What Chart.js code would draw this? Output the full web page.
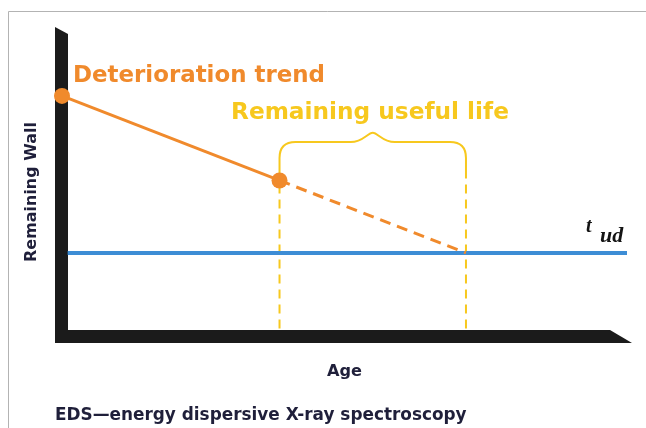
<!DOCTYPE html>
<html>
<head>
<meta charset="utf-8">
<title>Remaining useful life</title>
<script src="https://cdn.jsdelivr.net/npm/chart.js@4/dist/chart.umd.min.js"></script>
<style>
  html, body { margin: 0; padding: 0; background: #fff; }
  canvas { display: block; }
</style>
</head>
<body>
<canvas id="rul" width="646" height="428"></canvas>
<script>
// wall thickness over age: start, last inspection, projected end of life
const AGES = [0, 38.5, 71.5];
const WALL = [79.5, 51.5, 27.5];
// minimum wall thickness (t_ud) drawn across the age range
const TUD_AGES = [1, 100];
const TUD = 27.5;
// foot and top of the remaining-life markers
const MARKER_WALL = [2.5, 54];

const ORANGE = '#f08a2c';
const YELLOW = '#f7c81e';
const BLUE = '#3d8dd5';
const AXIS = '#1b1b1b';
const NAVY = '#1f1f3a';

function fitFont(ctx, text, width, style, family) {
  ctx.font = style + ' 20px ' + family;
  const w = ctx.measureText(text).width;
  return style + ' ' + (20 * width / w).toFixed(2) + 'px ' + family;
}

const sketchPlugin = {
  id: 'sketch',
  beforeDraw(chart) {
    const ctx = chart.ctx;
    ctx.save();
    ctx.fillStyle = '#fff';
    ctx.fillRect(0, 0, chart.width, chart.height);
    // page frame
    ctx.strokeStyle = '#b3b3b3';
    ctx.lineWidth = 1;
    ctx.beginPath();
    ctx.moveTo(8.5, chart.height);
    ctx.lineTo(8.5, 11.5);
    ctx.lineTo(chart.width, 11.5);
    ctx.stroke();
    ctx.restore();
  },
  beforeDatasetsDraw(chart) {
    const {ctx, chartArea: a, scales: {x, y}} = chart;
    ctx.save();
    // thick axis bars
    ctx.fillStyle = AXIS;
    ctx.beginPath();
    ctx.moveTo(a.left - 7, a.top - 7);
    ctx.lineTo(a.left + 6, a.top);
    ctx.lineTo(a.left + 6, a.bottom + 7);
    ctx.lineTo(a.left - 7, a.bottom + 7);
    ctx.closePath();
    ctx.fill();
    ctx.beginPath();
    ctx.moveTo(a.left - 7, a.bottom - 6);
    ctx.lineTo(a.right - 17, a.bottom - 6);
    ctx.lineTo(a.right + 5, a.bottom + 7);
    ctx.lineTo(a.left - 7, a.bottom + 7);
    ctx.closePath();
    ctx.fill();

    // curly brace over the remaining life
    const xl = x.getPixelForValue(AGES[1]);
    const xr = x.getPixelForValue(AGES[2]);
    const mid = (xl + xr) / 2;
    const foot = y.getPixelForValue(MARKER_WALL[1]);
    const top = y.getPixelForValue(64.2);
    const peak = y.getPixelForValue(67.3);
    const r = 16;
    ctx.strokeStyle = YELLOW;
    ctx.lineWidth = 2;
    ctx.lineJoin = 'round';
    ctx.beginPath();
    ctx.moveTo(xl, foot);
    ctx.lineTo(xl, top + r);
    ctx.quadraticCurveTo(xl, top, xl + r, top);
    ctx.lineTo(mid - 22, top);
    ctx.bezierCurveTo(mid - 10, top, mid - 5, peak, mid, peak);
    ctx.bezierCurveTo(mid + 5, peak, mid + 10, top, mid + 22, top);
    ctx.lineTo(xr - r, top);
    ctx.quadraticCurveTo(xr, top, xr, top + r);
    ctx.lineTo(xr, foot);
    ctx.stroke();
    ctx.restore();
  },
  afterDraw(chart) {
    const ctx = chart.ctx;
    const sans = '"DejaVu Sans"';
    ctx.save();
    ctx.textBaseline = 'alphabetic';
    ctx.textAlign = 'left';

    ctx.fillStyle = ORANGE;
    ctx.font = fitFont(ctx, 'Deterioration trend', 252, 'bold', sans);
    ctx.fillText('Deterioration trend', 73, 82);

    ctx.fillStyle = YELLOW;
    ctx.font = fitFont(ctx, 'Remaining useful life', 278, 'bold', sans);
    ctx.fillText('Remaining useful life', 231, 119);

    // t with subscript ud
    ctx.fillStyle = '#141414';
    ctx.font = 'bold italic 20px "Liberation Serif"';
    ctx.fillText('t', 586, 232);
    ctx.font = 'bold italic 22px "Liberation Serif"';
    ctx.fillText('ud', 600, 242);

    ctx.fillStyle = NAVY;
    ctx.font = fitFont(ctx, 'Age', 35, 'bold', sans);
    ctx.fillText('Age', 327, 376);

    ctx.font = fitFont(ctx, 'EDS\u2014energy dispersive X-ray spectroscopy', 412, 'bold', sans);
    ctx.fillText('EDS\u2014energy dispersive X-ray spectroscopy', 55, 420);

    ctx.translate(36, 262);
    ctx.rotate(-Math.PI / 2);
    ctx.font = fitFont(ctx, 'Remaining Wall', 140, 'bold', sans);
    ctx.fillText('Remaining Wall', 0, 0);
    ctx.restore();
  }
};

const trend = AGES.map((age, i) => ({x: age, y: WALL[i]}));
const tudLine = TUD_AGES.map((age) => ({x: age, y: TUD}));
const marker = (age) => MARKER_WALL.map((w) => ({x: age, y: w}));

const config = {
  type: 'line',
  data: {
    datasets: [{
      label: 'Deterioration trend',
      data: trend,
      borderColor: ORANGE,
      backgroundColor: ORANGE,
      borderWidth: 3,
      pointRadius: [8, 8, 0],
      pointBorderWidth: 0,
      pointBackgroundColor: ORANGE,
      segment: {
        borderDash: (c) => c.p0DataIndex === 1 ? [11, 7] : undefined,
      },
      clip: false,
      order: 0,
    }, {
      label: 't_ud',
      data: tudLine,
      borderColor: BLUE,
      borderWidth: 4,
      pointRadius: 0,
      clip: false,
      order: 1,
    }, {
      label: 'inspection',
      data: marker(AGES[1]),
      borderColor: YELLOW,
      borderWidth: 2,
      borderDash: [9, 6],
      pointRadius: 0,
      order: 2,
    }, {
      label: 'end of life',
      data: marker(AGES[2]),
      borderColor: YELLOW,
      borderWidth: 2,
      borderDash: [9, 6],
      pointRadius: 0,
      order: 2,
    }]
  },
  options: {
    responsive: false,
    animation: false,
    devicePixelRatio: 1,
    layout: {padding: {left: 62, right: 19, top: 34, bottom: 92}},
    plugins: {legend: {display: false}, tooltip: {enabled: false}},
    scales: {
      x: {type: 'linear', min: 0, max: 100, display: false},
      y: {type: 'linear', min: 0, max: 100, display: false},
    },
  },
  plugins: [sketchPlugin],
};

new Chart(document.getElementById('rul'), config);
</script>
</body>
</html>
